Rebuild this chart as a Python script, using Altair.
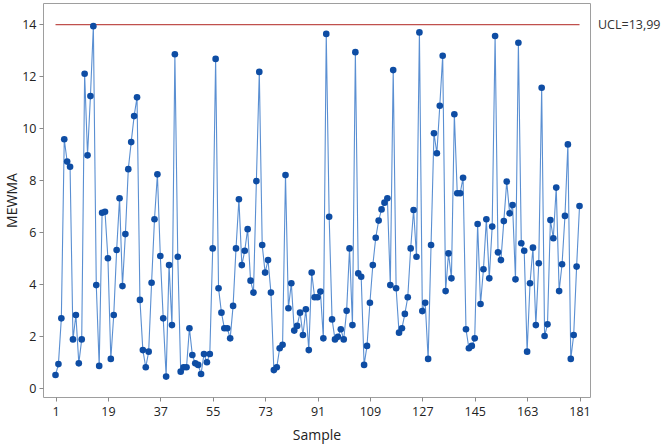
import altair as alt
import pandas as pd

# ---- data ----
samples = list(range(1, 182))
mewma = [
    0.51, 0.93, 2.69, 9.58, 8.72, 8.52, 1.88, 2.82, 0.96, 1.88,
    12.10, 8.96, 11.24, 13.93, 3.97, 0.86, 6.75, 6.79, 5.00, 1.13,
    2.82, 5.32, 7.31, 3.93, 5.93, 8.43, 9.47, 10.47, 11.19, 3.40,
    1.47, 0.81, 1.41, 4.06, 6.50, 8.23, 5.09, 2.69, 0.45, 4.74,
    2.43, 12.85, 5.06, 0.64, 0.81, 0.81, 2.31, 1.28, 0.96, 0.90,
    0.55, 1.32, 1.00, 1.32, 5.38, 12.67, 3.85, 2.91, 2.31, 2.31,
    1.92, 3.17, 5.38, 7.27, 4.74, 5.29, 6.12, 4.14, 3.68, 7.97,
    12.17, 5.51, 4.45, 4.93, 3.68, 0.70, 0.81, 1.54, 1.67, 8.20,
    3.08, 4.04, 2.22, 2.40, 2.91, 2.05, 3.04, 1.47, 4.45, 3.50,
    3.50, 3.72, 1.92, 13.63, 6.60, 2.65, 1.88, 1.98, 2.27, 1.88,
    2.98, 5.38, 2.43, 12.93, 4.42, 4.29, 0.90, 1.63, 3.29, 4.74,
    5.79, 6.45, 6.88, 7.14, 7.31, 3.97, 12.24, 3.85, 2.14, 2.31,
    2.86, 3.50, 5.38, 6.86, 5.06, 13.69, 2.97, 3.29, 1.13, 5.51,
    9.81, 9.04, 10.87, 12.79, 3.74, 5.19, 4.23, 10.54, 7.50, 7.50,
    8.10, 2.27, 1.54, 1.63, 1.92, 6.32, 3.24, 4.58, 6.50, 4.23,
    6.22, 13.55, 5.23, 4.93, 6.43, 7.95, 6.73, 7.05, 4.19, 13.29,
    5.58, 5.29, 1.41, 4.04, 5.41, 2.43, 4.81, 11.56, 2.01, 2.46,
    6.47, 5.77, 7.72, 3.74, 4.77, 6.63, 9.38, 1.13, 2.05, 4.68,
    7.01,
]
ucl_value = [13.99]
ucl_label = ["UCL=13,99"]
ucl_start = [1]
ucl_end = [181]
x_tick_values = [1, 19, 37, 55, 73, 91, 109, 127, 145, 163, 181]
y_tick_values = [0, 2, 4, 6, 8, 10, 12, 14]

df = pd.DataFrame({"Sample": samples, "MEWMA": mewma})
ucl_df = pd.DataFrame({"x": ucl_start, "x2": ucl_end, "y": ucl_value, "label": ucl_label})

W, H = 547, 394
FONT = "Open Sans"

x_scale = alt.Scale(domain=[-3.3, 184.6], nice=False, zero=False)
y_scale = alt.Scale(domain=[-0.335, 14.82], nice=False, zero=False)

x_axis = alt.Axis(values=x_tick_values, title="Sample", grid=False, domain=False,
                  tickSize=4, tickColor="#8a8a8a", labelPadding=4,
                  titlePadding=11)
y_axis = alt.Axis(values=y_tick_values, title="MEWMA", grid=False, domain=False,
                  tickSize=4, tickColor="#8a8a8a", labelPadding=3,
                  titlePadding=2)

rule = alt.Chart(ucl_df).mark_rule(color="#C0504D", strokeWidth=1.2).encode(
    x=alt.X("x:Q", scale=x_scale, axis=x_axis),
    x2="x2:Q",
    y=alt.Y("y:Q", scale=y_scale, axis=y_axis),
)

line = alt.Chart(df).mark_line(color="#5A8FD2", strokeWidth=1.1).encode(
    x=alt.X("Sample:Q", scale=x_scale, axis=x_axis),
    y=alt.Y("MEWMA:Q", scale=y_scale, axis=y_axis),
)

points = alt.Chart(df).mark_circle(color="#0E4DA4", size=44, opacity=1).encode(
    x=alt.X("Sample:Q", scale=x_scale),
    y=alt.Y("MEWMA:Q", scale=y_scale),
)

label = alt.Chart(ucl_df).mark_text(
    align="left", baseline="middle", fontSize=12.5, font=FONT, color="#333333", clip=False
).encode(
    x=alt.value(W + 8),
    y=alt.Y("y:Q", scale=y_scale),
    text="label:N",
)

chart = (
    alt.layer(rule, line, points, label)
    .properties(
        width=W,
        height=H,
        padding={"left": 43, "top": 3, "right": 76, "bottom": 49},
        autosize=alt.AutoSizeParams(type="none"),
        background="white",
    )
    .configure_view(stroke="#9E9E9E", strokeWidth=1)
    .configure_axis(
        labelFont=FONT, labelFontSize=12.5, labelColor="#222222",
        titleFont=FONT, titleFontSize=14, titleFontWeight="normal", titleColor="#222222",
    )
)

chart.save("out.html", embed_options={"renderer": "svg", "actions": False})
